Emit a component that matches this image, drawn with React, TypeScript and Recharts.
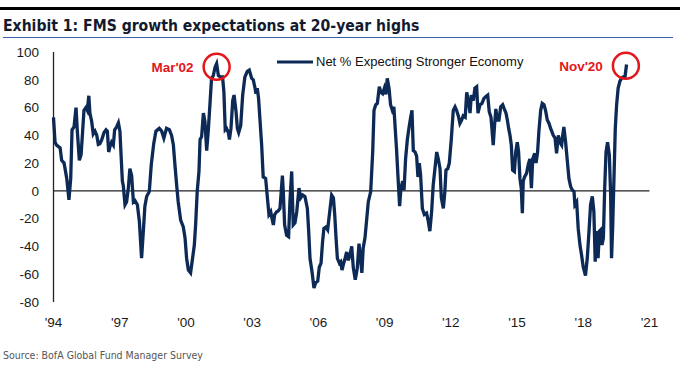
import React from 'react';
import { LineChart, Line, XAxis, YAxis, ReferenceLine, ReferenceDot, Legend } from 'recharts';

const titleText = 'Exhibit 1: FMS growth expectations at 20-year highs';
const sourceText = 'Source: BofA Global Fund Manager Survey';
const seriesName = 'Net % Expecting Stronger Economy';

// time position (decimal year, as placed on the chart's axis) of each reading
const times = [
  1994.0, 1994.07, 1994.14, 1994.3, 1994.37, 1994.48, 1994.6, 1994.7, 1994.78, 1994.84,
  1994.93, 1995.02, 1995.08, 1995.17, 1995.25, 1995.32, 1995.38, 1995.47, 1995.53, 1995.6,
  1995.65, 1995.73, 1995.8, 1995.88, 1995.96, 1996.03, 1996.1, 1996.18, 1996.29, 1996.38,
  1996.44, 1996.5, 1996.56, 1996.63, 1996.71, 1996.77, 1996.86, 1996.94, 1997.01, 1997.06,
  1997.12, 1997.16, 1997.24, 1997.31, 1997.39, 1997.46, 1997.54, 1997.62, 1997.69, 1997.8,
  1997.89, 1997.99, 1998.07, 1998.14, 1998.22, 1998.34, 1998.43, 1998.54, 1998.64, 1998.79,
  1998.9, 1999.0, 1999.12, 1999.25, 1999.35, 1999.43, 1999.5, 1999.58, 1999.65, 1999.76,
  1999.88, 1999.96, 2000.03, 2000.11, 2000.21, 2000.3, 2000.38, 2000.44, 2000.51, 2000.59,
  2000.64, 2000.71, 2000.79, 2000.86, 2000.94, 2001.01, 2001.09, 2001.16, 2001.24, 2001.32,
  2001.39, 2001.47, 2001.57, 2001.66, 2001.72, 2001.78, 2001.84, 2001.92, 2001.97, 2002.04,
  2002.12, 2002.18, 2002.27, 2002.33, 2002.39, 2002.48, 2002.57, 2002.67, 2002.78, 2002.87,
  2002.98, 2003.05, 2003.13, 2003.17, 2003.23, 2003.29, 2003.35, 2003.43, 2003.5, 2003.61,
  2003.69, 2003.76, 2003.84, 2003.9, 2003.96, 2004.02, 2004.11, 2004.18, 2004.26, 2004.37,
  2004.41, 2004.47, 2004.56, 2004.65, 2004.71, 2004.79, 2004.86, 2004.94, 2005.02, 2005.12,
  2005.2, 2005.29, 2005.39, 2005.5, 2005.56, 2005.62, 2005.71, 2005.8, 2005.88, 2005.97,
  2006.04, 2006.12, 2006.19, 2006.25, 2006.34, 2006.42, 2006.53, 2006.6, 2006.68, 2006.74,
  2006.8, 2006.86, 2006.95, 2007.01, 2007.07, 2007.13, 2007.21, 2007.28, 2007.36, 2007.43,
  2007.51, 2007.58, 2007.67, 2007.76, 2007.84, 2007.91, 2007.97, 2008.03, 2008.11, 2008.18,
  2008.26, 2008.37, 2008.46, 2008.52, 2008.6, 2008.67, 2008.76, 2008.83, 2008.91, 2008.99,
  2009.06, 2009.12, 2009.2, 2009.27, 2009.35, 2009.42, 2009.48, 2009.54, 2009.61, 2009.68,
  2009.74, 2009.82, 2009.88, 2009.95, 2010.03, 2010.1, 2010.18, 2010.24, 2010.3, 2010.38,
  2010.45, 2010.51, 2010.57, 2010.63, 2010.71, 2010.8, 2010.9, 2010.98, 2011.05, 2011.13,
  2011.2, 2011.28, 2011.36, 2011.43, 2011.51, 2011.57, 2011.66, 2011.73, 2011.78, 2011.86,
  2011.93, 2012.02, 2012.11, 2012.19, 2012.26, 2012.34, 2012.41, 2012.49, 2012.56, 2012.65,
  2012.72, 2012.79, 2012.87, 2012.93, 2013.02, 2013.09, 2013.17, 2013.23, 2013.32, 2013.41,
  2013.5, 2013.59, 2013.67, 2013.74, 2013.82, 2013.86, 2013.92, 2013.98, 2014.04, 2014.1,
  2014.18, 2014.26, 2014.35, 2014.42, 2014.5, 2014.56, 2014.62, 2014.68, 2014.74, 2014.8,
  2014.88, 2014.94, 2015.01, 2015.07, 2015.13, 2015.19, 2015.24, 2015.28, 2015.34, 2015.43,
  2015.51, 2015.58, 2015.65, 2015.71, 2015.8, 2015.86, 2015.93, 2015.99, 2016.07, 2016.14,
  2016.22, 2016.29, 2016.37, 2016.45, 2016.52, 2016.57, 2016.64, 2016.72, 2016.79, 2016.87,
  2016.94, 2017.02, 2017.06, 2017.12, 2017.2, 2017.28, 2017.35, 2017.43, 2017.5, 2017.58,
  2017.62, 2017.7, 2017.77, 2017.85, 2017.92, 2018.0, 2018.1, 2018.18, 2018.26, 2018.33,
  2018.41, 2018.48, 2018.54, 2018.6, 2018.67, 2018.73, 2018.79, 2018.85, 2018.91, 2018.97,
  2019.03, 2019.1, 2019.18, 2019.24, 2019.28, 2019.33, 2019.39, 2019.45, 2019.51, 2019.58,
  2019.66, 2019.73, 2019.81, 2019.89, 2019.96,
];

// Net % of fund managers expecting a stronger economy
const netStronger = [
  53, 35, 33, 31, 22, 20, 9, -6.5, 9, 44,
  46, 60, 43, 22, 26, 43, 58, 60, 58, 68.5,
  56, 50, 41, 43, 40, 33.5, 34, 36.6, 42, 44,
  43, 28, 32, 35, 33, 44, 46, 49, 43, 26,
  7, 4, -10, -8, 2, 16, 11, -8, -7, -10,
  -22, -48.5, -29, -11, -4, -0.5, 19, 34, 43, 45,
  43, 38, 45, 44, 40, 33, 19, 4, -8, -21,
  -26, -34, -48.5, -57, -59, -48.5, -39, -24, -0.5, 14,
  37, 39, 56, 50, 29, 43, 63, 81, 83, 89,
  91.6, 83, 82, 82, 71, 44, 45, 42, 37, 45,
  65, 69, 57, 45, 42, 47, 69, 82, 86, 87,
  81, 80, 74, 70, 74, 66.6, 52, 33, 10, 9,
  -5, -17, -15, -20, -24.5, -17, -15, -14.5, -12.6, 11,
  -0.5, -24.5, -32, -33, -8, 14, -24.5, -23, -15, 2,
  -5, -3, -4, -12.6, -29, -48.5, -58, -70, -66, -65,
  -55, -52, -36.6, -27, -26, -28, -12.6, -3, -5, -17,
  -34, -48.5, -52, -51, -57, -53, -48.5, -44, -50, -46,
  -40, -55, -64, -56, -38, -48.5, -59, -41, -34, -22,
  -8, -0.5, 28, 58, 62, 63, 75, 71, 70, 74,
  69.5, 81, 74, 62, 58, 60.5, 45, 30, 9, -11,
  2, 7, 0.6, 23, 37, 45, 53, 58, 29, 28,
  25, 10, 20, 11.5, -12.6, -17, -16, -22, -29, -15,
  4, 16, 28, 23, 16, -5, -12.6, -0.5, 15, 16,
  20, 37, 58, 60.5, 58, 54, 48.6, 51, 54, 53,
  71, 65, 56, 69, 65, 74, 75, 56, 62, 63,
  66.6, 68, 69, 57, 53, 45, 33, 47, 59, 51,
  51, 60.5, 62, 59, 56, 51, 45, 40, 33, 15,
  14, 28, 35, 28, 9, 2, -16, 7, 10, 12.6,
  19, 23, 2, 23, 27, 20, 28, 43, 58, 63,
  62, 58, 51, 48.6, 45, 43, 40, 38, 27, 40,
  35, 33, 39, 46, 35, 21, 9, 3, 0.6, -0.5,
  -10, -8, -27, -39, -46, -55, -61, -48.5, -29, -10,
  -4, -15, -51, -29, -48.5, -29, -28, -39, -34, 2,
  28, 35, 26, -3, -48.5, -27, 9, 45, 62, 74,
  79, 81, 82, 82, 91,
];

const xTicks = [1994, 1997, 2000, 2003, 2006, 2009, 2012, 2015, 2018, 2021];
const xTickLabels = ["'94", "'97", "'00", "'03", "'06", "'09", "'12", "'15", "'18", "'21"];
const yTicks = [-80, -60, -40, -20, 0, 20, 40, 60, 80, 100];

const annotationLabels = ["Mar'02", "Nov'20"];
const annotationTimes = [2001.39, 2019.93];
const annotationValues = [89.4, 90.1];

const data = times.map((t, i) => ({ t, v: netStronger[i] }));

const NAVY = '#0d2a56';
const RED = '#e3161b';
const ARIAL = "'Liberation Sans', Arial, sans-serif";
const NARROW = "'Liberation Sans Narrow', 'DejaVu Sans Condensed', sans-serif";

const renderLegend = () => (
  <div style={{ display: 'flex', alignItems: 'center', fontFamily: ARIAL, fontSize: 13, color: '#111', lineHeight: '17px', whiteSpace: 'nowrap' }}>
    <svg width={36} height={6} style={{ display: 'block' }}>
      <line x1={0} y1={3} x2={36} y2={3} stroke={NAVY} strokeWidth={3} />
    </svg>
    <span style={{ marginLeft: 3 }}>{seriesName}</span>
  </div>
);

export default function App() {
  return (
    <div style={{ position: 'absolute', left: 0, top: 0, width: 680, height: 368, background: '#fff', overflow: 'hidden' }}>
      <div style={{ position: 'absolute', left: 0, top: 7, width: 680, height: 3, background: '#000' }} />
      <div style={{ position: 'absolute', left: 3, top: 17.5, fontFamily: NARROW, fontWeight: 'bold', fontSize: 15.6, lineHeight: '16px', color: '#141a2e', whiteSpace: 'nowrap' }}>
        {titleText}
      </div>
      <div style={{ position: 'absolute', left: 3, top: 36.5, width: 670, height: 1.5, background: '#3b64ad' }} />
      <div style={{ position: 'absolute', left: 0, top: 0 }}>
        <LineChart width={680} height={368} data={data} margin={{ top: 52, right: 30.5, bottom: 36, left: 0 }}>
          <XAxis
            dataKey="t"
            type="number"
            domain={[1994, 2021]}
            ticks={xTicks}
            interval={0}
            tickFormatter={(v: number) => xTickLabels[xTicks.indexOf(v)]}
            axisLine={false}
            tickLine={false}
            tickMargin={9}
            height={30}
            tick={{ fill: '#1a1a1a', fontSize: 13.5, fontFamily: ARIAL }}
          />
          <YAxis
            type="number"
            domain={[-80, 100]}
            ticks={yTicks}
            interval={0}
            axisLine={{ stroke: '#222', strokeWidth: 1.3 }}
            tickLine={false}
            tickMargin={8.5}
            width={53.5}
            tick={{ fill: '#1a1a1a', fontSize: 13.5, fontFamily: ARIAL }}
          />
          <ReferenceLine y={0} stroke="#222" strokeWidth={1.3} />
          <Legend
            layout="horizontal"
            verticalAlign="middle"
            align="center"
            content={renderLegend}
            wrapperStyle={{ left: 277, top: 53, width: 'auto' }}
          />
          <Line
            type="linear"
            dataKey="v"
            name={seriesName}
            stroke={NAVY}
            strokeWidth={3.3}
            dot={false}
            isAnimationActive={false}
          />
          {annotationLabels.map((lab, i) => (
            <ReferenceDot
              key={lab}
              x={annotationTimes[i]}
              y={annotationValues[i]}
              r={13}
              fill="none"
              stroke={RED}
              strokeWidth={2.5}
              label={{ value: lab, position: 'left', offset: 10, fill: RED, fontWeight: 'bold', fontSize: 13.5, fontFamily: ARIAL }}
            />
          ))}
        </LineChart>
      </div>
      <div style={{ position: 'absolute', left: 3, top: 350, fontFamily: NARROW, fontSize: 10.5, lineHeight: '11px', color: '#555', whiteSpace: 'nowrap' }}>
        {sourceText}
      </div>
    </div>
  );
}
